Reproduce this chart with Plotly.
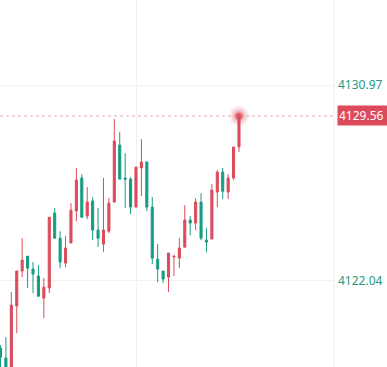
import plotly.graph_objects as go

# candle index
idx = list(range(45))
opens = [4118.94, 4118.49, 4117.71, 4120.87, 4122.47, 4123.15, 4122.56, 4122.24, 4121.23, 4121.69,
         4125.12, 4123.97, 4122.83, 4123.75, 4125.21, 4126.72, 4124.98, 4125.67, 4124.34, 4123.70,
         4124.29, 4125.62, 4128.23, 4126.72, 4126.67, 4125.39, 4127.18, 4127.45, 4125.39, 4123.01,
         4122.47, 4122.19, 4123.11, 4123.06, 4123.56, 4124.80, 4124.66, 4125.62, 4123.88, 4123.93,
         4126.08, 4126.99, 4126.08, 4126.72, 4128.14]
highs = [4119.08, 4119.45, 4121.51, 4122.47, 4123.97, 4123.15, 4122.88, 4122.74, 4122.15, 4124.93,
         4125.35, 4124.29, 4124.07, 4125.57, 4127.18, 4126.90, 4126.31, 4125.85, 4125.35, 4126.72,
         4125.80, 4129.42, 4128.82, 4127.86, 4126.76, 4127.22, 4128.50, 4127.50, 4125.85, 4123.70,
         4122.47, 4123.29, 4123.15, 4123.97, 4125.48, 4124.98, 4125.80, 4126.03, 4124.43, 4126.44,
         4127.08, 4127.18, 4126.90, 4128.14, 4129.56]
lows = [4117.94, 4117.71, 4117.48, 4119.63, 4122.19, 4121.69, 4121.46, 4121.28, 4120.32, 4121.46,
        4123.97, 4122.60, 4122.65, 4123.75, 4124.75, 4124.89, 4124.84, 4123.88, 4123.56, 4123.33,
        4124.20, 4125.62, 4126.67, 4125.35, 4125.07, 4125.39, 4125.90, 4125.21, 4122.79, 4121.96,
        4121.92, 4121.51, 4122.24, 4122.60, 4123.56, 4124.11, 4124.34, 4123.88, 4123.33, 4123.93,
        4125.39, 4125.76, 4125.76, 4126.63, 4127.91]
closes = [4118.53, 4117.85, 4120.91, 4122.47, 4122.97, 4122.60, 4122.33, 4121.32, 4121.73, 4124.93,
          4123.97, 4122.88, 4123.52, 4125.25, 4126.63, 4124.93, 4125.62, 4124.34, 4123.97, 4124.34,
          4125.57, 4128.41, 4126.67, 4126.67, 4125.39, 4127.22, 4127.45, 4125.39, 4123.06, 4122.56,
          4122.10, 4123.29, 4123.15, 4123.52, 4124.80, 4124.66, 4125.62, 4123.97, 4123.79, 4126.17,
          4126.99, 4126.12, 4126.72, 4128.14, 4129.56]

axis_ticks = [4122.04, 4130.97]
axis_labels = ["4122.04", "4130.97"]
last_price = 4129.56
last_label = "4129.56"

RED = "#dc4b5b"
GREEN = "#179c82"
TEAL = "#1f9a84"
DOM = 334 / 387

fig = go.Figure()
fig.add_trace(go.Candlestick(
    x=idx, open=opens, high=highs, low=lows, close=closes,
    increasing=dict(line=dict(color=RED, width=1), fillcolor=RED),
    decreasing=dict(line=dict(color=GREEN, width=1), fillcolor=GREEN),
    whiskerwidth=0, showlegend=False, hoverinfo="skip",
))
# glow on last price
for s, c in [(20, "rgba(220,75,91,0.10)"), (15, "rgba(220,75,91,0.18)"), (10, "rgba(220,75,91,0.35)"), (6, "rgba(220,75,91,0.8)")]:
    fig.add_trace(go.Scatter(x=[idx[-1]], y=[last_price], mode="markers",
                             marker=dict(size=s, color=c, line=dict(width=0)),
                             showlegend=False, hoverinfo="skip"))

fig.add_shape(type="line", xref="paper", yref="y", x0=0, x1=DOM, y0=last_price, y1=last_price,
              line=dict(color="#dfb0b6", width=1, dash="3px,3px"), layer="below")
fig.add_shape(type="line", xref="paper", yref="paper", x0=DOM, x1=DOM, y0=0, y1=1,
              line=dict(color="#efefef", width=1), layer="below")

fig.add_annotation(xref="paper", yref="y", x=DOM, y=last_price, xanchor="left", yanchor="middle",
                   text=last_label, showarrow=False, bgcolor=RED, width=51, height=17, align="left",
                   borderpad=1, xshift=3, font=dict(color="white", size=12, family="Noto Sans"))

fig.update_layout(
    width=387, height=367, margin=dict(l=0, r=0, t=0, b=0),
    paper_bgcolor="white", plot_bgcolor="white", boxgap=0.45,
    xaxis=dict(domain=[0, DOM], range=[-0.09, 61.53], rangeslider=dict(visible=False),
               showticklabels=False, tickvals=[25], showgrid=True, gridcolor="#f1f1f1",
               zeroline=False, showline=False, ticks=""),
    yaxis=dict(side="right", anchor="x", range=[4118.08, 4134.86], tickvals=axis_ticks,
               ticktext=axis_labels, showgrid=True, gridcolor="#f1f1f1", zeroline=False,
               tickfont=dict(color=TEAL, size=12, family="Noto Sans"), ticks="",
               ticklabelstandoff=3),
    font=dict(family="Noto Sans"),
)

fig.write_html("out.html")
